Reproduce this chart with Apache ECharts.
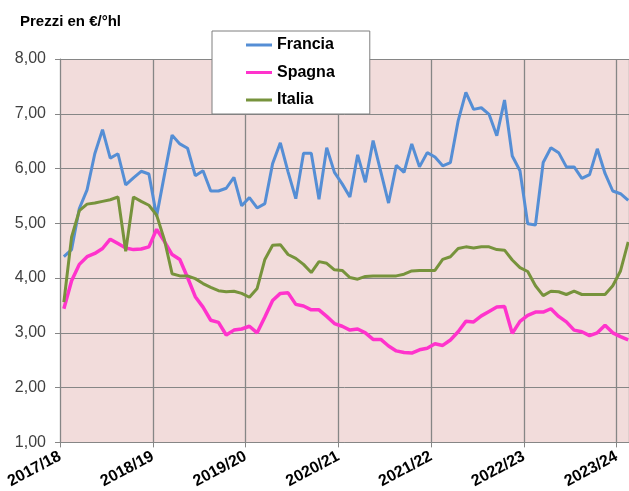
<!DOCTYPE html>
<html>
<head>
<meta charset="utf-8">
<script src="https://cdn.jsdelivr.net/npm/echarts@6/dist/echarts.min.js"></script>
<style>
html, body { margin: 0; padding: 0; background: #fff; }
#container { width: 629px; height: 491px; }
</style>
</head>
<body>
<div id="container"></div>
<script>
// campagne (agosto-luglio), una riga verticale ogni 12 mesi
var seasons = ['2017/18', '2018/19', '2019/20', '2020/21', '2021/22', '2022/23', '2023/24'];

// prezzi mensili in €/°hl
var francia = [
    4.39, 4.52, 5.27, 5.61, 6.27, 6.71, 6.19, 6.27, 5.70, 5.83, 5.95, 5.90,
    5.13, 5.88, 6.61, 6.45, 6.37, 5.87, 5.96, 5.59, 5.59, 5.64, 5.84, 5.32,
    5.47, 5.28, 5.36, 6.09, 6.47, 5.94, 5.45, 6.28, 6.28, 5.44, 6.38, 5.93,
    5.72, 5.48, 6.25, 5.75, 6.51, 5.94, 5.37, 6.06, 5.93, 6.45, 6.03, 6.29,
    6.21, 6.05, 6.11, 6.87, 7.39, 7.08, 7.11, 6.99, 6.60, 7.25, 6.23, 5.96,
    4.99, 4.97, 6.11, 6.38, 6.29, 6.03, 6.03, 5.82, 5.89, 6.36, 5.91, 5.59,
    5.54, 5.42
];
var spagna = [
    3.44, 3.95, 4.25, 4.39, 4.45, 4.54, 4.71, 4.63, 4.55, 4.52, 4.53, 4.57,
    4.89, 4.67, 4.43, 4.34, 4.01, 3.66, 3.47, 3.23, 3.19, 2.96, 3.05, 3.07,
    3.12, 3.00, 3.29, 3.59, 3.72, 3.73, 3.52, 3.49, 3.42, 3.42, 3.30, 3.17,
    3.12, 3.05, 3.07, 3.00, 2.88, 2.88, 2.76, 2.67, 2.64, 2.63, 2.69, 2.72,
    2.80, 2.77, 2.87, 3.02, 3.21, 3.20, 3.31, 3.39, 3.47, 3.48, 2.99, 3.21,
    3.32, 3.38, 3.38, 3.44, 3.30, 3.20, 3.05, 3.02, 2.95, 3.00, 3.14, 3.00,
    2.93, 2.87
];
var italia = [
    3.56, 4.75, 5.23, 5.35, 5.37, 5.40, 5.43, 5.48, 4.49, 5.48, 5.40, 5.33,
    5.15, 4.70, 4.08, 4.04, 4.04, 3.99, 3.90, 3.83, 3.77, 3.75, 3.76, 3.72,
    3.65, 3.81, 4.34, 4.60, 4.61, 4.43, 4.36, 4.25, 4.10, 4.30, 4.27, 4.15,
    4.14, 4.01, 3.98, 4.03, 4.04, 4.04, 4.04, 4.04, 4.07, 4.13, 4.14, 4.14,
    4.14, 4.34, 4.39, 4.54, 4.57, 4.55, 4.57, 4.57, 4.52, 4.51, 4.33, 4.19,
    4.12, 3.86, 3.68, 3.76, 3.75, 3.70, 3.76, 3.70, 3.70, 3.70, 3.70, 3.86,
    4.13, 4.66
];

// ogni punto sta a metà del suo mese
function toPoints(arr) {
    var out = [];
    for (var i = 0; i < arr.length; i++) {
        out.push([i + 0.5, arr[i]]);
    }
    return out;
}

var myChart = echarts.init(document.getElementById('container'));
var gridColor = '#868686';

var option = {
    animation: false,
    backgroundColor: '#ffffff',
    title: {
        text: 'Prezzi en €/°hl',
        left: 20,
        top: 14,
        padding: 0,
        textStyle: {
            fontFamily: 'Liberation Sans',
            fontSize: 15,
            fontWeight: 'bold',
            color: '#000'
        }
    },
    legend: {
        orient: 'vertical',
        left: 212,
        top: 31,
        padding: [5, 35, 5, 34],
        itemGap: 9.5,
        itemWidth: 26,
        itemHeight: 3,
        icon: 'rect',
        backgroundColor: '#ffffff',
        borderColor: '#7f7f7f',
        borderWidth: 1,
        borderRadius: 0,
        data: ['Francia', 'Spagna', 'Italia'],
        textStyle: {
            fontFamily: 'Liberation Sans',
            fontSize: 16,
            fontWeight: 'bold',
            color: '#000',
            lineHeight: 18
        }
    },
    grid: {
        left: 60,
        top: 59,
        right: 0,
        bottom: 44,
        show: true,
        backgroundColor: '#F2DCDB',
        borderWidth: 0
    },
    xAxis: {
        type: 'value',
        min: 0,
        max: 73.6,
        interval: 12,
        axisLine: { show: true, lineStyle: { color: gridColor, width: 1 } },
        axisTick: { show: true, inside: false, length: 5, lineStyle: { color: gridColor } },
        splitLine: { show: true, lineStyle: { color: gridColor, width: 1.3 } },
        axisLabel: {
            rotate: 28,
            margin: 13,
            fontFamily: 'Liberation Sans',
            fontSize: 16,
            fontWeight: 'bold',
            color: '#000',
            showMaxLabel: false,
            formatter: function (v) {
                if (v % 12 !== 0) return '';
                return seasons[v / 12] || '';
            }
        }
    },
    yAxis: {
        type: 'value',
        min: 1,
        max: 8,
        interval: 1,
        axisLine: { show: true, lineStyle: { color: gridColor, width: 1 } },
        axisTick: { show: true, inside: false, length: 5, lineStyle: { color: gridColor } },
        splitLine: { show: true, lineStyle: { color: gridColor, width: 1 } },
        axisLabel: {
            margin: 14,
            fontFamily: 'Liberation Sans',
            fontSize: 16,
            color: '#404040',
            formatter: function (v) {
                return v.toFixed(2).replace('.', ',');
            }
        }
    },
    series: [
        {
            name: 'Francia',
            type: 'line',
            data: toPoints(francia),
            symbol: 'none',
            color: '#558ED5',
            lineStyle: { width: 3, color: '#558ED5' }
        },
        {
            name: 'Spagna',
            type: 'line',
            data: toPoints(spagna),
            symbol: 'none',
            color: '#FF33CC',
            lineStyle: { width: 3.5, color: '#FF33CC' }
        },
        {
            name: 'Italia',
            type: 'line',
            data: toPoints(italia),
            symbol: 'none',
            color: '#77933C',
            lineStyle: { width: 3, color: '#77933C' }
        }
    ]
};

if (option && typeof option === "object") {
    myChart.setOption(option, true);
}
</script>
</body>
</html>
